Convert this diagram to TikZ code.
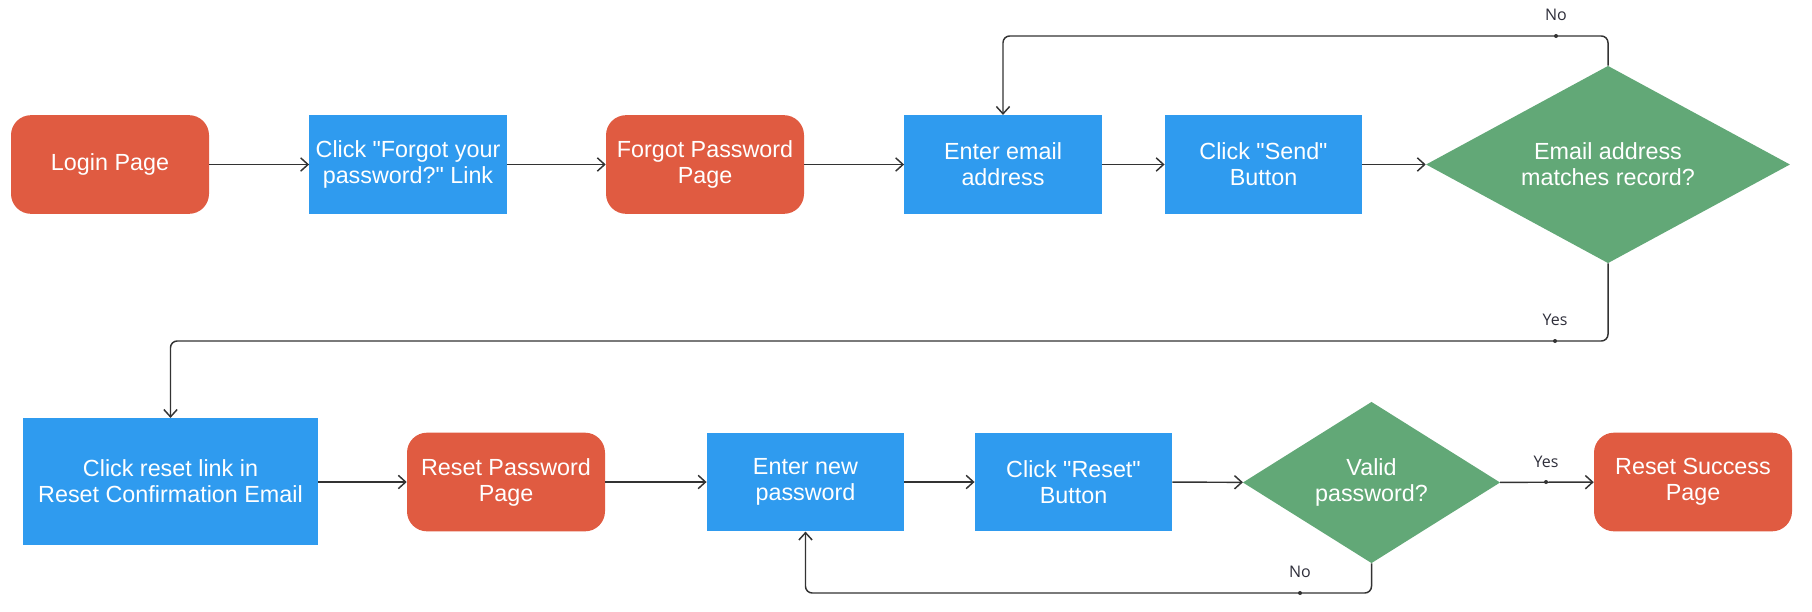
\documentclass[tikz,border=0pt]{standalone}
\usepackage{fontspec}
\setmainfont{Liberation Sans}
\newfontfamily\nodefont{Liberation Sans}
\newfontfamily\labelfont{Open Sans}
\usetikzlibrary{shapes.geometric,arrows.meta}
\definecolor{cred}{HTML}{E05B41}
\definecolor{cblue}{HTML}{2F9BEF}
\definecolor{cgreen}{HTML}{62A877}
\definecolor{cline}{HTML}{333333}
\definecolor{clabel}{HTML}{2E2E3A}
\tikzset{
  base/.style={text=white, align=center, inner sep=0pt, font=\nodefont\fontsize{17.5}{19.5}\selectfont},
  pagebox/.style={base, fill=cred, rounded corners=15pt, minimum width=148.5pt, minimum height=74pt},
  actbox/.style={base, fill=cblue, minimum width=148pt, minimum height=74pt},
  decbox/.style={base, fill=cgreen, shape=diamond, aspect=1.8},
  arr/.style={draw=cline, line width=1.1pt, -{Straight Barb[length=5.5pt,width=10pt,line width=1.1pt]}},
  lbl/.style={text=clabel, font=\labelfont\fontsize{12}{14}\selectfont, inner sep=0pt},
  dot/.style={fill=cline}
}
\begin{document}
\begin{tikzpicture}[x=0.75pt,y=-0.75pt]
\useasboundingbox (0,0) rectangle (1812,611);
% row 1
\node[pagebox] (login) at (110,164.5) {Login Page};
\node[actbox] (clickforgot) at (408,164.5) {Click "Forgot your\\password?" Link};
\node[pagebox] (forgotpage) at (705,164.5) {Forgot Password\\Page};
\node[actbox] (enteremail) at (1003,164.5) {Enter email\\address};
\node[actbox] (clicksend) at (1263.5,164.5) {Click "Send"\\Button};
\node[decbox, minimum width=273pt, minimum height=148pt] (d1) at (1608,164.5) {Email address\\matches record?};
% row 2
\node[actbox, minimum width=221pt, minimum height=95pt] (clickreset) at (170.5,481.5) {Click reset link in\\Reset Confirmation Email};
\node[pagebox] (resetpage) at (506,482) {Reset Password\\Page};
\node[actbox] (enternew) at (805.5,482) {Enter new\\password};
\node[actbox] (clickresetbtn) at (1073.5,482) {Click "Reset"\\Button};
\node[decbox, aspect=1.6, minimum width=193pt, minimum height=121pt] (d2) at (1371.5,482.5) {Valid\\password?};
\node[pagebox] (success) at (1693,482) {Reset Success\\Page};
% helper coordinates
\coordinate (noy) at (0,36);
\coordinate (yesy) at (0,341);
\coordinate (notwoy) at (0,593);
% straight connectors
\draw[arr] (login) -- (clickforgot);
\draw[arr] (clickforgot) -- (forgotpage);
\draw[arr] (forgotpage) -- (enteremail);
\draw[arr] (enteremail) -- (clicksend);
\draw[arr] (clicksend) -- (d1);
\draw[arr] (clickreset.east |- resetpage.west) -- (resetpage);
\draw[arr] (resetpage) -- (enternew);
\draw[arr] (enternew) -- (clickresetbtn);
\draw[arr] (clickresetbtn) -- (d2);
\draw[arr] (d2) -- (success);
% loops
\draw[arr, rounded corners=5pt] (d1.north) -- (d1.north |- noy) -- (enteremail.north |- noy) -- (enteremail.north);
\draw[arr, rounded corners=5pt] (d1.south) -- (d1.south |- yesy) -- (clickreset.north |- yesy) -- (clickreset.north);
\draw[arr, rounded corners=5pt] (d2.south) -- (d2.south |- notwoy) -- (enternew.south |- notwoy) -- (enternew.south);
% labels and dots
\node[lbl] (nolbl) at (1556,15) {No};
\fill[dot] (1556,36) circle (2);
\node[lbl] (yeslbl) at (1555,320) {Yes};
\fill[dot] (1555,341) circle (2);
\node[lbl] (yestwolbl) at (1546,462) {Yes};
\fill[dot] (1546,482) circle (2);
\node[lbl] (notwolbl) at (1300,572) {No};
\fill[dot] (1300,593) circle (2);
\end{tikzpicture}
\end{document}
